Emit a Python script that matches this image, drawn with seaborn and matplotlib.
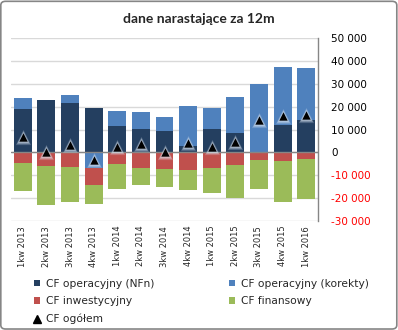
import numpy as np
import matplotlib
matplotlib.use("Agg")
import matplotlib.pyplot as plt
from matplotlib.patches import Patch, FancyBboxPatch
from matplotlib.lines import Line2D
from matplotlib.ticker import FuncFormatter, MultipleLocator
import seaborn as sns

categories = ['1kw 2013', '2kw 2013', '3kw 2013', '4kw 2013', '1kw 2014', '2kw 2014',
              '3kw 2014', '4kw 2014', '1kw 2015', '2kw 2015', '3kw 2015', '4kw 2015', '1kw 2016']
cf_nfn = [19000, 23000, 21700, 19500, 11600, 10300, 9500, 2900, 10300, 8600, 0, 12100, 14300]
cf_korekty = [4900, 0, 3500, -7000, 6600, 7500, 6100, 17500, 9200, 15700, 30000, 25300, 22700]
cf_inwest = [-4500, -6100, -6500, -7100, -4900, -6700, -7100, -7600, -6700, -5400, -3200, -3600, -2800]
cf_finans = [-12200, -16700, -15300, -8600, -11000, -7400, -7900, -8700, -10900, -14400, -12700, -17900, -17400]
cf_ogolem = [6700, 0, 3300, -3500, 2300, 3600, 0, 4100, 2300, 4400, 14000, 16000, 16300]

series_names = ['CF operacyjny (NFn)', 'CF operacyjny (korekty)', 'CF inwestycyjny', 'CF finansowy']
series_colors = ['#243F60', '#4F81BD', '#C0504D', '#9BBB59']
total_name = 'CF ogółem'

sns.set_style('white')
plt.rcParams['font.family'] = ['DejaVu Sans']

fig = plt.figure(figsize=(3.98, 3.30), dpi=100)
ax = fig.add_axes([11/398, 1-221/330, (318-11)/398, (221-38)/330])

x = np.arange(len(categories))
pos_base = np.zeros(len(categories))
neg_base = np.zeros(len(categories))
for vals, col in zip([cf_nfn, cf_korekty, cf_inwest, cf_finans], series_colors):
    v = np.array(vals, dtype=float)
    bottoms = np.where(v >= 0, pos_base, neg_base)
    ax.bar(x, v, bottom=bottoms, width=0.76, color=col, linewidth=0, zorder=2)
    pos_base += np.where(v >= 0, v, 0)
    neg_base += np.where(v < 0, v, 0)

ax.axhline(0, color='#868686', lw=1, zorder=3)

# soft glow + triangles
for s, a in [(120, 0.22), (90, 0.3), (65, 0.4)]:
    sns.scatterplot(x=x, y=cf_ogolem, marker='^', s=s, color='#DCE6F2', alpha=a,
                    linewidth=0, ax=ax, legend=False, zorder=4)
sns.scatterplot(x=x, y=cf_ogolem, marker='^', s=36, color='black', linewidth=0,
                ax=ax, legend=False, zorder=5)

ax.set_xlim(-0.5, len(categories) - 0.5)
ax.set_ylim(-30000, 50000)
ax.yaxis.set_major_locator(MultipleLocator(10000))
ax.yaxis.set_major_formatter(FuncFormatter(lambda v, p: f"{v:,.0f}".replace(',', ' ')))
ax.yaxis.tick_right()
ax.yaxis.grid(True, color='#D9D9D9', lw=1)
ax.set_axisbelow(True)
ax.tick_params(axis='y', length=0, pad=9.5, labelsize=7.5)
ax.set_xticks(x)
ax.set_xticklabels(categories, rotation=90, fontsize=6, va='top')
ax.tick_params(axis='x', length=0, pad=3.5)
fig.canvas.draw()
for lab, val in zip(ax.get_yticklabels(), ax.get_yticks()):
    lab.set_color('#FF0000' if val < 0 else 'black')

for sp in ['top', 'left', 'bottom']:
    ax.spines[sp].set_visible(False)
ax.spines['right'].set_color('#868686')
ax.spines['right'].set_linewidth(1)
ax.set_xlabel('')
ax.set_ylabel('')

fig.text(199/398, 1-19/330, 'dane narastające za 12m', ha='center', va='center',
         fontsize=10, fontweight='bold', family=['Lato', 'DejaVu Sans'])

h = [Patch(color=c, lw=0) for c in series_colors]
tri = Line2D([], [], marker='^', color='black', linestyle='none', markersize=5.5)
handles = [h[0], h[2], tri, h[1], h[3]]
labels = [series_names[0], series_names[2], total_name, series_names[1], series_names[3]]
fig.legend(handles, labels, ncol=2, loc='upper left', bbox_to_anchor=(34/398, 1-279/330),
           frameon=False, fontsize=7.7, borderpad=0, borderaxespad=0,
           handlelength=0.55, handleheight=0.55, handletextpad=0.55,
           columnspacing=7.0, labelspacing=0.68)

fig.add_artist(FancyBboxPatch((0.002, 0.003), 0.995, 0.993,
                              boxstyle='round,pad=0,rounding_size=0.012',
                              transform=fig.transFigure, fill=False, ec='#868686', lw=1.2))

fig.savefig('out.png', dpi=100)
